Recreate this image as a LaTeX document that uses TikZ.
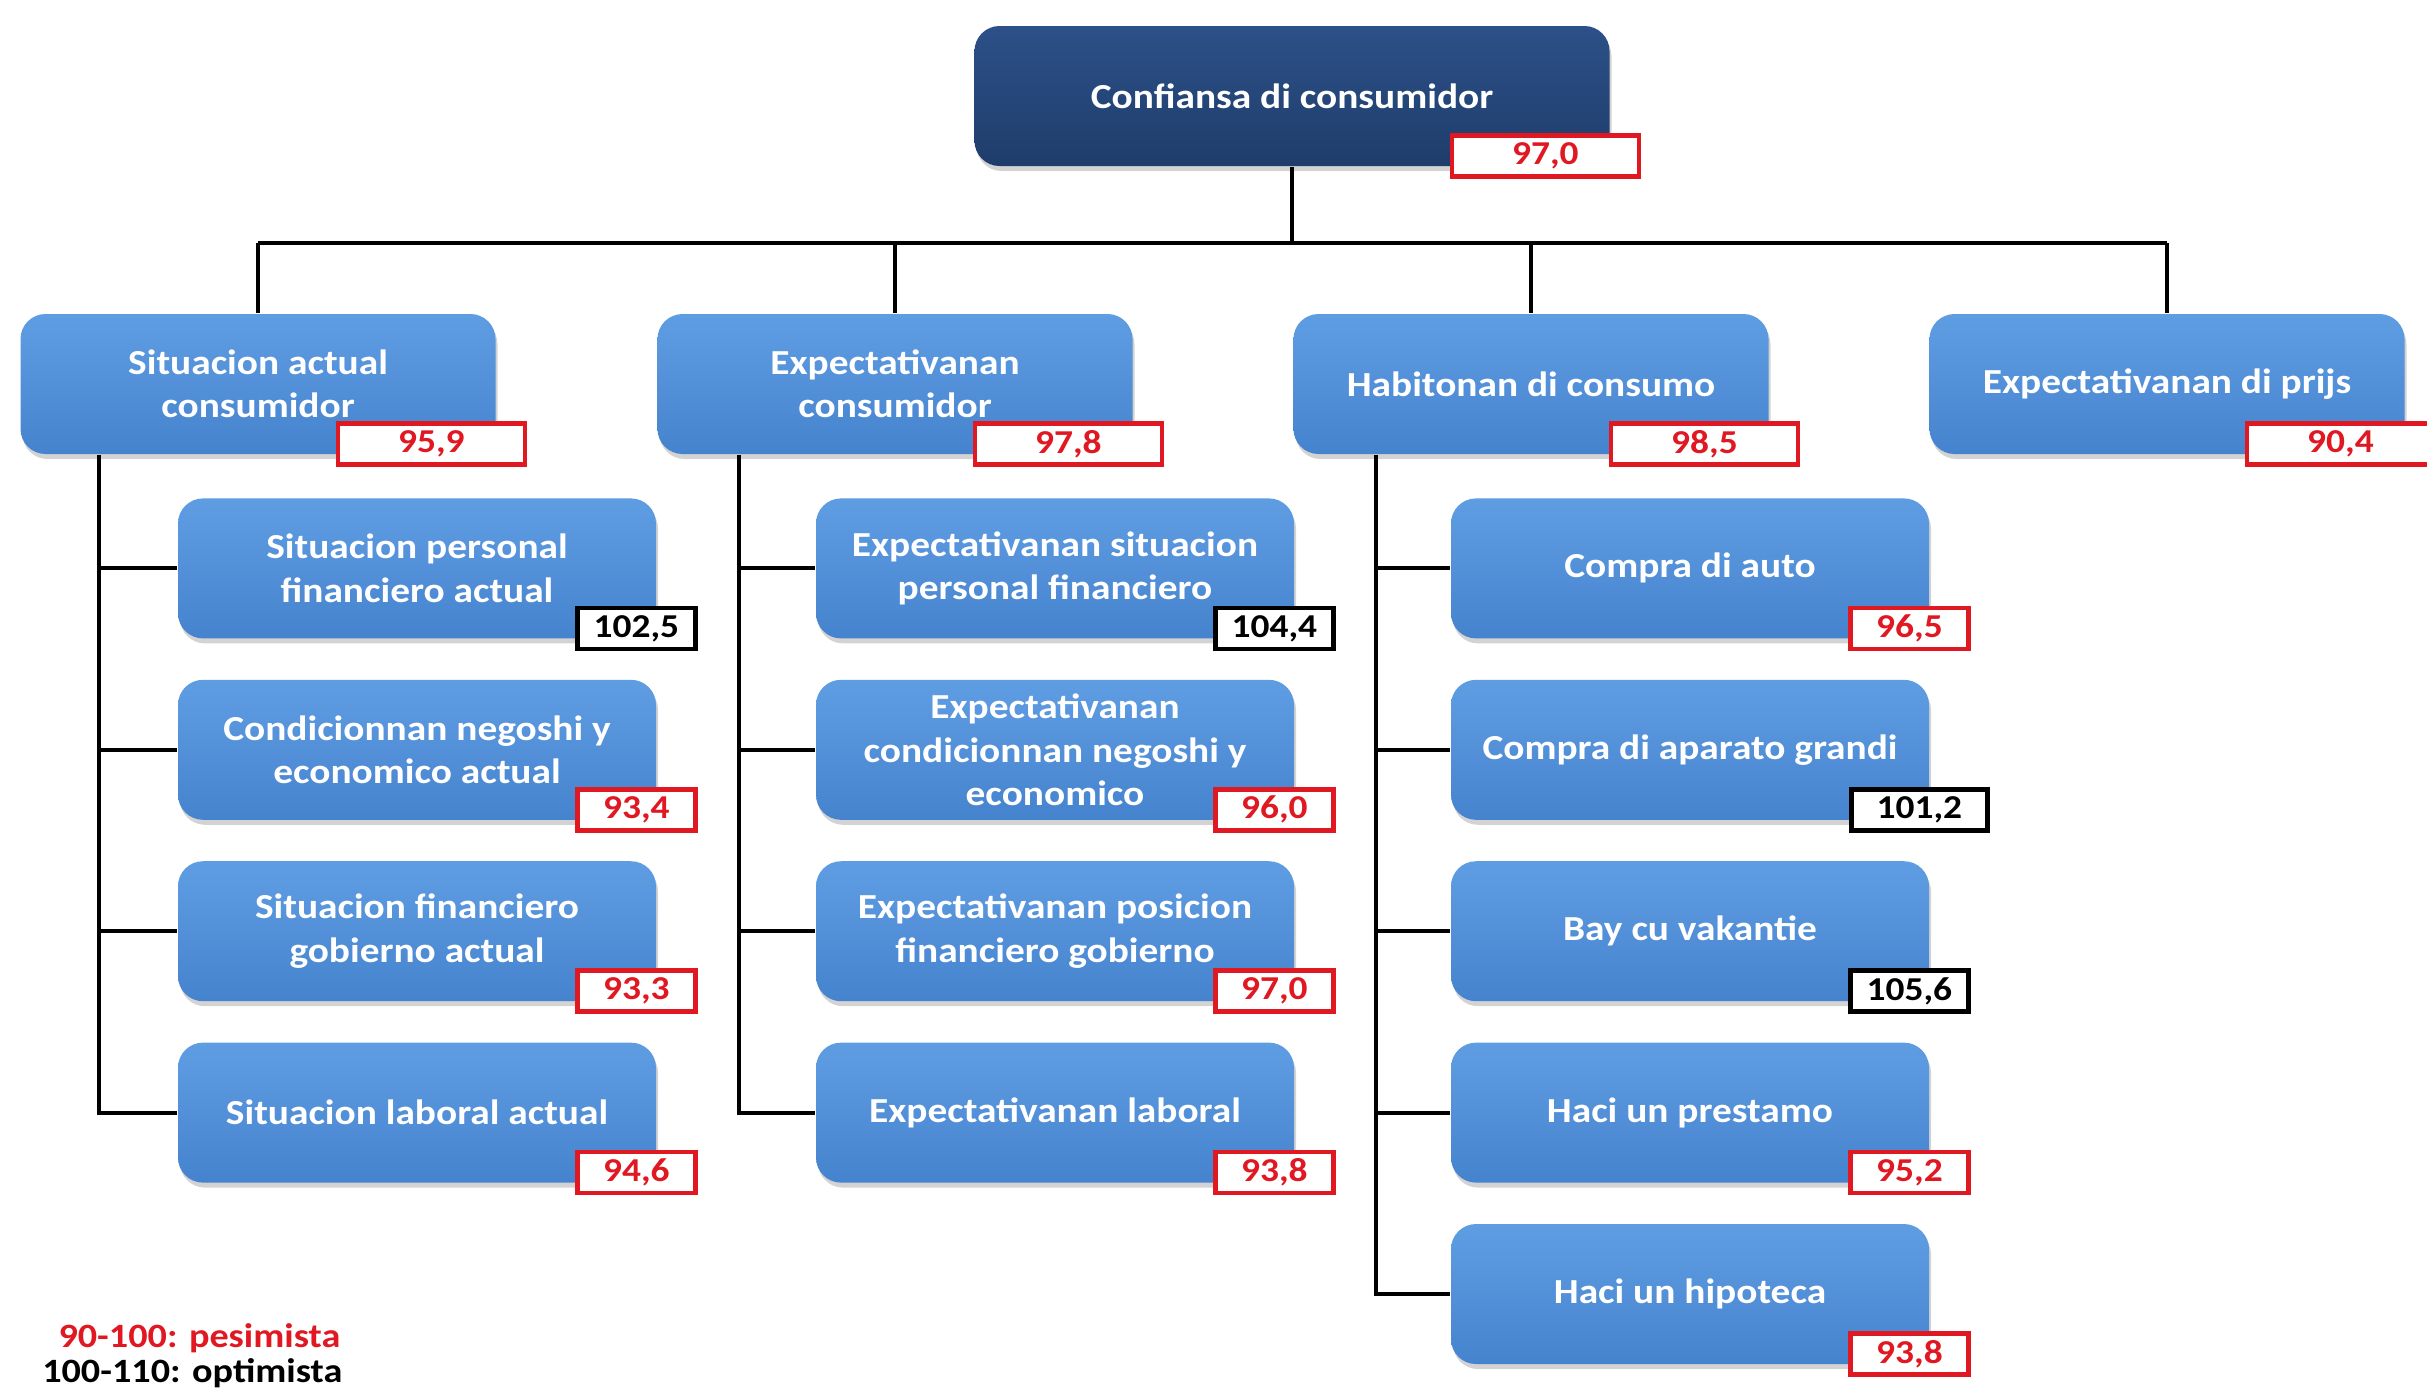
\documentclass[tikz,border=0pt]{standalone}
\usepackage{fontspec}
\setmainfont{Carlito}[FakeStretch=1.12]
\usepackage{tikz}
\usetikzlibrary{positioning, shadows, calc}
\definecolor{navy}{HTML}{1F3D6B}
\definecolor{navytop}{HTML}{2C5088}
\definecolor{boxblue}{HTML}{4683CE}
\definecolor{boxtop}{HTML}{5F9DE3}
\definecolor{valred}{HTML}{E01822}
\tikzset{font=\fontsize{10}{12.3}\selectfont\bfseries}
\tikzset{root/.style={rectangle, rounded corners=0.25cm, top color=navytop, bottom color=navy, text=white,
  minimum width=6.35cm, minimum height=1.4cm, align=center,
  drop shadow={shadow xshift=0.02cm, shadow yshift=-0.05cm, opacity=0.35}}}
\tikzset{group/.style={root, top color=boxtop, bottom color=boxblue, minimum width=4.75cm}}
\tikzset{item/.style={group, minimum width=4.78cm}}
\tikzset{redval/.style={rectangle, draw=valred, line width=1.3pt, fill=white, text=valred, inner sep=0pt,
  minimum height=0.41cm, minimum width=1.18cm, anchor=south east,
  font=\fontsize{9.5}{10}\selectfont\bfseries}}
\tikzset{blackval/.style={redval, draw=black, text=black}}
\tikzset{conn/.style={draw=black, line width=1.1pt}}

\begin{document}
\begin{tikzpicture}[node distance=0.4cm]
  \useasboundingbox (0,0) rectangle (24.27,-13.91);
  %Nodes
  \node[root] (root) at (12.92,-0.96) {Confiansa di consumidor};
  \coordinate (bus) at (12.92,-2.43);
  \node[group] (s1) at (2.58,-3.84) {Situacion actual\\consumidor};
  \node[group] (e1) at (8.95,-3.84) {Expectativanan\\consumidor};
  \node[group] (h1) at (15.31,-3.84) {Habitonan di consumo};
  \node[group] (p1) at (21.67,-3.84) {Expectativanan di prijs};
  % Situacion actual
  \node[item] (s11) [below=0.43 of s1, xshift=1.59cm] {Situacion personal\\financiero actual};
  \node[item] (s12) [below=of s11] {Condicionnan negoshi y\\economico actual};
  \node[item] (s13) [below=of s12] {Situacion financiero\\gobierno actual};
  \node[item] (s14) [below=of s13] {Situacion laboral actual};
  % Expectativanan
  \node[item] (e11) [below=0.43 of e1, xshift=1.6cm] {Expectativanan situacion\\personal financiero};
  \node[item] (e12) [below=of e11] {Expectativanan\\condicionnan negoshi y\\economico};
  \node[item] (e13) [below=of e12] {Expectativanan posicion\\financiero gobierno};
  \node[item] (e14) [below=of e13] {Expectativanan laboral};
  % Habitonan
  \node[item] (h11) [below=0.43 of h1, xshift=1.59cm] {Compra di auto};
  \node[item] (h12) [below=of h11] {Compra di aparato grandi};
  \node[item] (h13) [below=of h12] {Bay cu vakantie};
  \node[item] (h14) [below=of h13] {Haci un prestamo};
  \node[item] (h15) [below=of h14] {Haci un hipoteca};
  % Edges
  \begin{scope}[every path/.style={conn}]
    \draw (root.south) -- (root.south |- bus);
    \draw (s1.north |- bus) -- (p1.north |- bus);
    \foreach \n in {s1,e1,h1,p1}
      \draw (\n.north |- bus) -- (\n.north);
    \coordinate (st) at ([xshift=0.79cm]s1.south west);
    \coordinate (et) at ([xshift=0.82cm]e1.south west);
    \coordinate (ht) at ([xshift=0.83cm]h1.south west);
    \draw (st) |- (s14.west);
    \draw (et) |- (e14.west);
    \draw (ht) |- (h15.west);
    \foreach \k in {1,2,3} {
      \draw (st |- s1\k.west) -- (s1\k.west);
      \draw (et |- e1\k.west) -- (e1\k.west);
    }
    \foreach \k in {1,2,3,4}
      \draw (ht |- h1\k.west) -- (h1\k.west);
  \end{scope}
  % Values
  \node[redval, minimum width=1.87cm] (v0) at ([shift={(0.31,-0.12)}]root.south east) {97,0};
  \node[redval, minimum width=1.87cm] (vs) at ([shift={(0.31,-0.12)}]s1.south east) {95,9};
  \node[redval, minimum width=1.87cm] (ve) at ([shift={(0.31,-0.12)}]e1.south east) {97,8};
  \node[redval, minimum width=1.87cm] (vh) at ([shift={(0.31,-0.12)}]h1.south east) {98,5};
  \node[redval, minimum width=1.87cm] (vp) at ([shift={(0.31,-0.12)}]p1.south east) {90,4};
  \node[blackval] (vs11) at ([shift={(0.41,-0.12)}]s11.south east) {102,5};
  \node[redval] (vs12) at ([shift={(0.41,-0.12)}]s12.south east) {93,4};
  \node[redval] (vs13) at ([shift={(0.41,-0.12)}]s13.south east) {93,3};
  \node[redval] (vs14) at ([shift={(0.41,-0.12)}]s14.south east) {94,6};
  \node[blackval] (ve11) at ([shift={(0.41,-0.12)}]e11.south east) {104,4};
  \node[redval] (ve12) at ([shift={(0.41,-0.12)}]e12.south east) {96,0};
  \node[redval] (ve13) at ([shift={(0.41,-0.12)}]e13.south east) {97,0};
  \node[redval] (ve14) at ([shift={(0.41,-0.12)}]e14.south east) {93,8};
  \node[redval] (vh11) at ([shift={(0.41,-0.12)}]h11.south east) {96,5};
  \node[blackval, minimum width=1.36cm] (vh12) at ([shift={(0.6,-0.12)}]h12.south east) {101,2};
  \node[blackval] (vh13) at ([shift={(0.41,-0.12)}]h13.south east) {105,6};
  \node[redval] (vh14) at ([shift={(0.41,-0.12)}]h14.south east) {95,2};
  \node[redval] (vh15) at ([shift={(0.41,-0.12)}]h15.south east) {93,8};
  % Legend
  \node[anchor=base east, text=valred, inner sep=0pt, font=\fontsize{9.7}{10}\selectfont\bfseries] (pes) at (3.41,-13.47) {90-100: pesimista};
  \node[anchor=base east, inner sep=0pt, font=\fontsize{9.7}{10}\selectfont\bfseries] (opt) at (3.43,-13.82) {100-110: optimista};
\end{tikzpicture}
\end{document}
